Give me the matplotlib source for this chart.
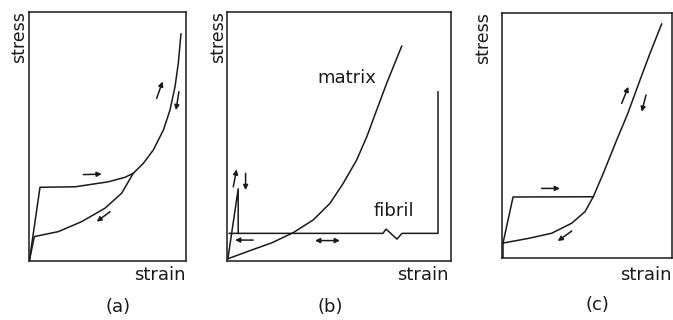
import matplotlib.pyplot as plt

# Panel (a): loading / unloading curves, axis units 0..1
a_load_x = [0.002, 0.070, 0.293, 0.505, 0.611, 0.664, 0.728, 0.792, 0.856, 0.898, 0.930, 0.951, 0.968]
a_load_y = [0.000, 0.296, 0.298, 0.318, 0.336, 0.352, 0.392, 0.446, 0.526, 0.606, 0.700, 0.794, 0.912]
a_unload_x = [0.664, 0.590, 0.484, 0.335, 0.187, 0.034, 0.002]
a_unload_y = [0.352, 0.272, 0.212, 0.158, 0.118, 0.098, 0.000]
a_arrows = [(0.346, 0.347, 0.463, 0.349),
            (0.516, 0.198, 0.431, 0.158),
            (0.813, 0.653, 0.851, 0.721),
            (0.955, 0.680, 0.936, 0.606)]

# Panel (b): matrix and fibril
b_matrix_x = [0.004, 0.116, 0.200, 0.296, 0.385, 0.460, 0.519, 0.579, 0.624, 0.668, 0.713, 0.780]
b_matrix_y = [0.009, 0.046, 0.073, 0.114, 0.165, 0.232, 0.312, 0.406, 0.499, 0.606, 0.714, 0.863]
b_peak_x = [0.004, 0.050, 0.050]
b_peak_y = [0.009, 0.290, 0.111]
b_fibril_x = [0.010, 0.696, 0.710, 0.759, 0.781, 0.942, 0.942]
b_fibril_y = [0.111, 0.111, 0.128, 0.088, 0.111, 0.111, 0.679]
b_arrows = [(0.028, 0.298, 0.043, 0.368),
            (0.083, 0.352, 0.083, 0.285),
            (0.117, 0.084, 0.036, 0.084)]
b_double = [(0.393, 0.082, 0.504, 0.082)]

# Panel (c)
c_load_x = [0.006, 0.065, 0.537, 0.596, 0.675, 0.740, 0.812, 0.871, 0.939]
c_load_y = [0.061, 0.249, 0.250, 0.346, 0.482, 0.590, 0.727, 0.836, 0.955]
c_unload_x = [0.537, 0.488, 0.410, 0.292, 0.155, 0.006]
c_unload_y = [0.250, 0.189, 0.142, 0.101, 0.080, 0.061]
c_corner_x = [0.006, 0.006]
c_corner_y = [0.0, 0.061]
c_arrows = [(0.233, 0.284, 0.341, 0.284),
            (0.410, 0.110, 0.328, 0.069),
            (0.704, 0.631, 0.743, 0.699),
            (0.847, 0.665, 0.822, 0.597)]

ink = '#1a1a1a'
plt.rcParams['font.family'] = 'DejaVu Sans'

fig = plt.figure(figsize=(6.73, 3.2), dpi=100)
W, H = 673.0, 320.0


def make_axes(x0, y0, x1, y1):
    ax = fig.add_axes([x0 / W, 1 - y1 / H, (x1 - x0) / W, (y1 - y0) / H])
    ax.set_xlim(0, 1)
    ax.set_ylim(0, 1)
    ax.set_xticks([])
    ax.set_yticks([])
    for s in ax.spines.values():
        s.set_linewidth(1.1)
        s.set_color(ink)
    return ax


def arrows(ax, lst, style='-|>'):
    for x0, y0, x1, y1 in lst:
        ax.annotate('', xy=(x1, y1), xytext=(x0, y0),
                    arrowprops=dict(arrowstyle=style, color=ink, lw=1.1,
                                    mutation_scale=7, shrinkA=0, shrinkB=0))


lw = 1.1

ax_a = make_axes(29, 12, 186, 261)
ax_a.plot(a_load_x, a_load_y, color=ink, lw=lw)
ax_a.plot(a_unload_x, a_unload_y, color=ink, lw=lw)
arrows(ax_a, a_arrows)

ax_b = make_axes(227, 12, 451, 261)
ax_b.plot(b_matrix_x, b_matrix_y, color=ink, lw=lw)
ax_b.plot(b_peak_x, b_peak_y, color=ink, lw=lw)
ax_b.plot(b_fibril_x, b_fibril_y, color=ink, lw=lw)
arrows(ax_b, b_arrows)
arrows(ax_b, b_double, style='<|-|>')
ax_b.text(0.534, 0.734, 'matrix', fontsize=13, ha='center', va='center', color=ink)
ax_b.text(0.745, 0.200, 'fibril', fontsize=13, ha='center', va='center', color=ink)

ax_c = make_axes(502, 13, 672, 258)
ax_c.plot(c_load_x, c_load_y, color=ink, lw=lw)
ax_c.plot(c_unload_x, c_unload_y, color=ink, lw=lw)
ax_c.plot(c_corner_x, c_corner_y, color=ink, lw=lw)
arrows(ax_c, c_arrows)

# axis words and panel letters, placed in pixel terms
for x, y in [(19, 37), (218, 37), (483, 38)]:
    fig.text(x / W, 1 - y / H, 'stress', rotation=90, fontsize=12.5,
             ha='center', va='center', color=ink)
for x, y in [(186, 275), (449, 275), (672, 275)]:
    fig.text(x / W, 1 - y / H, 'strain', fontsize=13,
             ha='right', va='center', color=ink)
for x, y, t in [(118, 307, '(a)'), (330, 307, '(b)'), (597, 305, '(c)')]:
    fig.text(x / W, 1 - y / H, t, fontsize=13, ha='center', va='center', color=ink)

fig.savefig('out.png', dpi=100)
